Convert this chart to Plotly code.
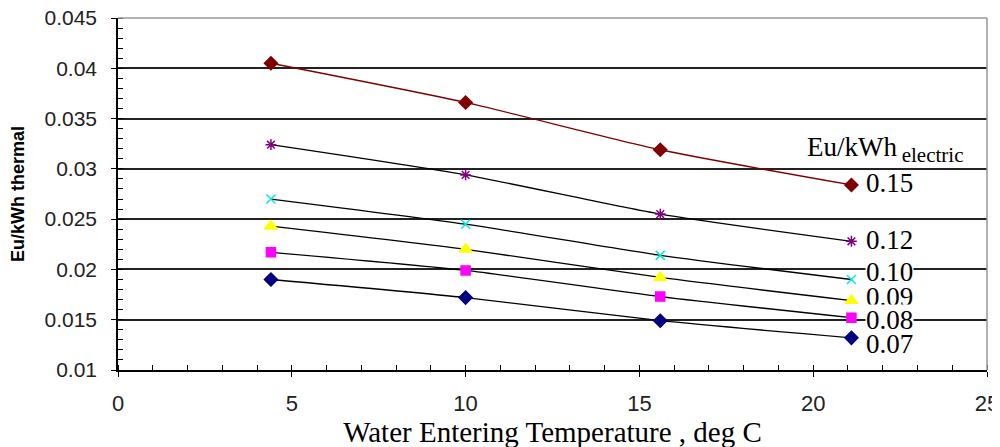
import plotly.graph_objects as go

temps = [4.4, 10.0, 15.6, 21.1]
rate_labels = ["0.15", "0.12", "0.10", "0.09", "0.08", "0.07"]
cost_015 = [0.0405, 0.0366, 0.0319, 0.0284]
cost_012 = [0.0324, 0.0294, 0.0255, 0.0228]
cost_010 = [0.0270, 0.0245, 0.0214, 0.0190]
cost_009 = [0.0243, 0.0220, 0.0192, 0.0169]
cost_008 = [0.0217, 0.0199, 0.0173, 0.0152]
cost_007 = [0.0190, 0.0172, 0.0149, 0.0132]
label_y = [0.0286, 0.0229, 0.01974, 0.01726, 0.01497, 0.01259]
x_ticks = [0, 5, 10, 15, 20, 25]
y_ticks = [0.01, 0.015, 0.02, 0.025, 0.03, 0.035, 0.04, 0.045]
y_tick_text = ["0.01", "0.015", "0.02", "0.025", "0.03", "0.035", "0.04", "0.045"]

series = [
    (cost_015, "#800000", "#800000", "diamond", 10),
    (cost_012, "#000000", "#800080", "asterisk-open", 9),
    (cost_010, "#000000", "#00E8E8", "x-thin-open", 9),
    (cost_009, "#000000", "#FFFF00", "triangle-up", 11),
    (cost_008, "#000000", "#FF00FF", "square", 9),
    (cost_007, "#000000", "#000080", "diamond", 10),
]

fig = go.Figure()
for (vals, lcol, mcol, sym, sz), name in zip(series, rate_labels):
    fig.add_trace(go.Scatter(
        x=temps, y=vals, mode="lines+markers", name=name,
        line=dict(color=lcol, width=1.3, shape="spline", smoothing=0.6),
        marker=dict(symbol=sym, size=sz, color=mcol,
                    line=dict(color=mcol, width=1.5)),
        showlegend=False,
    ))

serif = "Liberation Serif, Times New Roman, serif"
for name, y in zip(rate_labels, label_y):
    bg = "white" if name in ("0.10", "0.08") else None
    fig.add_annotation(x=21.5, y=y, text=name, showarrow=False, xanchor="left",
                       yanchor="middle", font=dict(family=serif, size=27, color="black"),
                       bgcolor=bg, borderpad=0)
fig.add_annotation(x=19.75, y=0.0319,
                   text="Eu/kWh<sub> <span style='font-size:21px'>electric</span></sub>",
                   showarrow=False, xanchor="left", yanchor="middle",
                   font=dict(family=serif, size=27, color="black"))

fig.add_shape(type="line", xref="paper", yref="paper", x0=0, x1=1, y0=1, y1=1,
              line=dict(color="#999999", width=1.5), layer="above")
fig.add_shape(type="line", xref="paper", yref="paper", x0=1, x1=1, y0=0, y1=1,
              line=dict(color="#999999", width=1.5), layer="above")

fig.update_layout(
    width=1000, height=447,
    margin=dict(l=110, r=21, t=10, b=85),
    plot_bgcolor="white", paper_bgcolor="white",
    xaxis=dict(range=[0, 25], tickmode="array", tickvals=x_ticks, showgrid=False, zeroline=False,
               showline=True, linecolor="black", linewidth=1.5, automargin=False,
               ticklabeloverflow="allow",
               ticks="outside", ticklen=5, tickcolor="black", ticklabelstandoff=8,
               minor=dict(dtick=1, tick0=0, ticks="inside", ticklen=5, tickcolor="black", showgrid=False),
               tickfont=dict(family="Liberation Sans, Arial", size=22, color="#222"),
               title=dict(text="Water Entering Temperature , deg C",
                          font=dict(family=serif, size=29, color="black"), standoff=4)),
    yaxis=dict(range=[0.01, 0.045], tickmode="array", tickvals=y_ticks, ticktext=y_tick_text,
               showgrid=True, gridcolor="#222222", gridwidth=1.5, zeroline=False,
               showline=True, linecolor="black", linewidth=1.5, automargin=False,
               ticklabeloverflow="allow",
               ticks="outside", ticklen=5, tickcolor="black", ticklabelstandoff=10,
               minor=dict(dtick=0.001, tick0=0.01, ticks="inside", ticklen=5, tickcolor="black", showgrid=False),
               tickfont=dict(family="Liberation Sans, Arial", size=21, color="#222"),
               title=dict(text="<b>Eu/kWh thermal</b>",
                          font=dict(family="Liberation Sans, Arial", size=18, color="black"),
                          standoff=16)),
)

fig.write_html("out.html")
